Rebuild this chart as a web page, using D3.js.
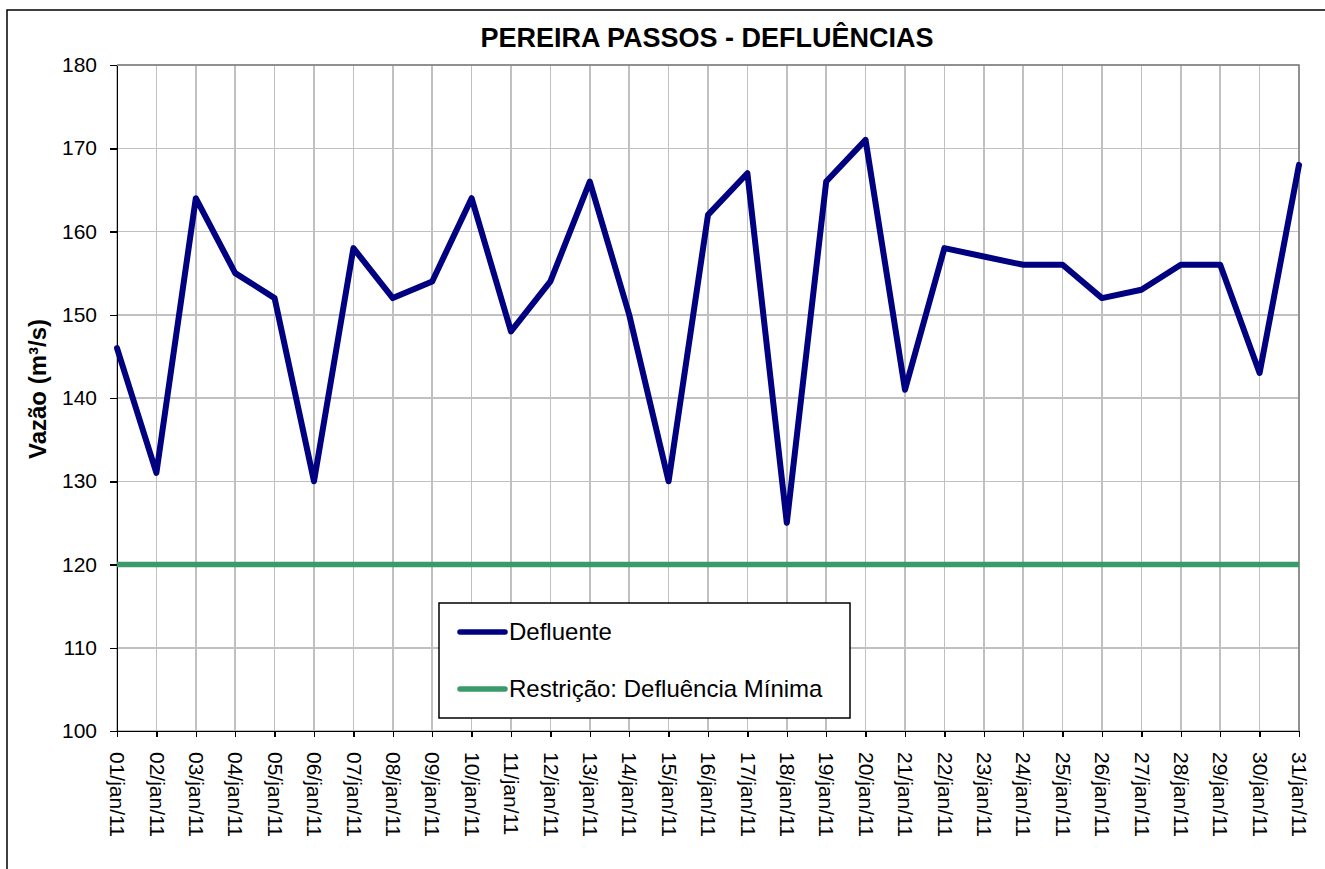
<!DOCTYPE html>
<head>
<meta charset="utf-8">
<title>Pereira Passos - Defluencias</title>
<script src="https://d3js.org/d3.v7.min.js"></script>
<style>
    body { margin: 0; background: #fff; }
    svg text { font-family: Arial, "Liberation Sans", sans-serif; fill: #000; }
    .grid line { stroke: #c0c0c0; stroke-width: 1.5; shape-rendering: crispEdges; }
    .axis path, .axis line { stroke: #000; stroke-width: 1.5; shape-rendering: crispEdges; }
    .axis text { font-size: 21px; }
</style>
</head>
<body>
<div id="container"></div>
<script>
// ---- data ----
var dias = ["01/jan/11","02/jan/11","03/jan/11","04/jan/11","05/jan/11","06/jan/11","07/jan/11","08/jan/11",
            "09/jan/11","10/jan/11","11/jan/11","12/jan/11","13/jan/11","14/jan/11","15/jan/11","16/jan/11",
            "17/jan/11","18/jan/11","19/jan/11","20/jan/11","21/jan/11","22/jan/11","23/jan/11","24/jan/11",
            "25/jan/11","26/jan/11","27/jan/11","28/jan/11","29/jan/11","30/jan/11","31/jan/11"];
var defluente = [146,131,164,155,152,130,158,152,154,164,148,154,166,150,130,162,
                 167,125,166,171,141,158,157,156,156,152,153,156,156,143,168];
var restricao = [120,120,120,120,120,120,120,120,120,120,120,120,120,120,120,120,
                 120,120,120,120,120,120,120,120,120,120,120,120,120,120,120];
var yTicks = [100,110,120,130,140,150,160,170,180];

var width = 1325, height = 869;
var plot = {left: 117, right: 1299, top: 65, bottom: 731};

var svg = d3.select("#container").append("svg")
    .attr("width", width)
    .attr("height", height);

// outer chart frame
svg.append("rect")
    .attr("x", 7).attr("y", 10)
    .attr("width", 1340).attr("height", 880)
    .attr("fill", "#fff")
    .attr("stroke", "#000")
    .attr("stroke-width", 1.5);

// scales
var x = d3.scalePoint().domain(dias).range([plot.left, plot.right]);
var y = d3.scaleLinear().domain([100, 180]).range([plot.bottom, plot.top]);

// gridlines
var grid = svg.append("g").attr("class", "grid");
grid.selectAll(".hg").data(yTicks).enter().append("line")
    .attr("x1", plot.left).attr("x2", plot.right)
    .attr("y1", function(d){ return y(d); }).attr("y2", function(d){ return y(d); });
grid.selectAll(".vg").data(dias).enter().append("line")
    .attr("x1", function(d){ return x(d); }).attr("x2", function(d){ return x(d); })
    .attr("y1", plot.top).attr("y2", plot.bottom);

// plot border (top / right in gray)
svg.append("path")
    .attr("d", "M" + plot.left + "," + plot.top + "H" + plot.right + "V" + plot.bottom)
    .attr("fill", "none")
    .attr("stroke", "#808080")
    .attr("stroke-width", 1.5);

// axes
svg.append("g")
    .attr("class", "axis")
    .attr("transform", "translate(" + plot.left + ",0)")
    .call(d3.axisLeft(y).tickValues(yTicks).tickSize(7).tickSizeOuter(0).tickPadding(13))
    .select(".domain").attr("stroke-width", 2);

var xa = svg.append("g")
    .attr("class", "axis")
    .attr("transform", "translate(0," + plot.bottom + ")")
    .call(d3.axisBottom(x).tickSize(6).tickSizeOuter(0));
xa.select(".domain").attr("stroke-width", 2);
xa.selectAll("text")
    .attr("transform", "rotate(90)")
    .attr("x", 21)
    .attr("y", 0)
    .attr("dy", "0.35em")
    .style("text-anchor", "start");

// lines
var line = d3.line()
    .x(function(d, i){ return x(dias[i]); })
    .y(function(d){ return y(d); });

svg.append("path")
    .datum(restricao)
    .attr("d", line)
    .attr("fill", "none")
    .attr("stroke", "#3a9a6a")
    .attr("stroke-width", 5.5);

svg.append("path")
    .datum(defluente)
    .attr("d", line)
    .attr("fill", "none")
    .attr("stroke", "#000080")
    .attr("stroke-width", 6)
    .attr("stroke-linejoin", "round")
    .attr("stroke-linecap", "round");

// title
svg.append("text")
    .attr("x", 707).attr("y", 47)
    .attr("text-anchor", "middle")
    .style("font-size", "27px")
    .style("font-weight", "bold")
    .text("PEREIRA PASSOS - DEFLUÊNCIAS");

// y label
svg.append("text")
    .attr("transform", "translate(46,389) rotate(-90)")
    .attr("text-anchor", "middle")
    .style("font-size", "24px")
    .style("font-weight", "bold")
    .text("Vazão (m³/s)");

// legend
var lg = svg.append("g");
lg.append("rect")
    .attr("x", 439).attr("y", 603)
    .attr("width", 411).attr("height", 115)
    .attr("fill", "#fff")
    .attr("stroke", "#000")
    .attr("stroke-width", 1.5);
var legendItems = [{name: "Defluente", color: "#000080"},
                   {name: "Restrição: Defluência Mínima", color: "#3a9a6a"}];
legendItems.forEach(function(d, i) {
    var ly = 632 + i * 57;
    lg.append("line")
        .attr("x1", 460).attr("x2", 505)
        .attr("y1", ly).attr("y2", ly)
        .attr("stroke", d.color)
        .attr("stroke-width", 5.5)
        .attr("stroke-linecap", "round");
    lg.append("text")
        .attr("x", 509).attr("y", ly)
        .attr("dy", "0.35em")
        .style("font-size", "24px")
        .text(d.name);
});
</script>
</body>
